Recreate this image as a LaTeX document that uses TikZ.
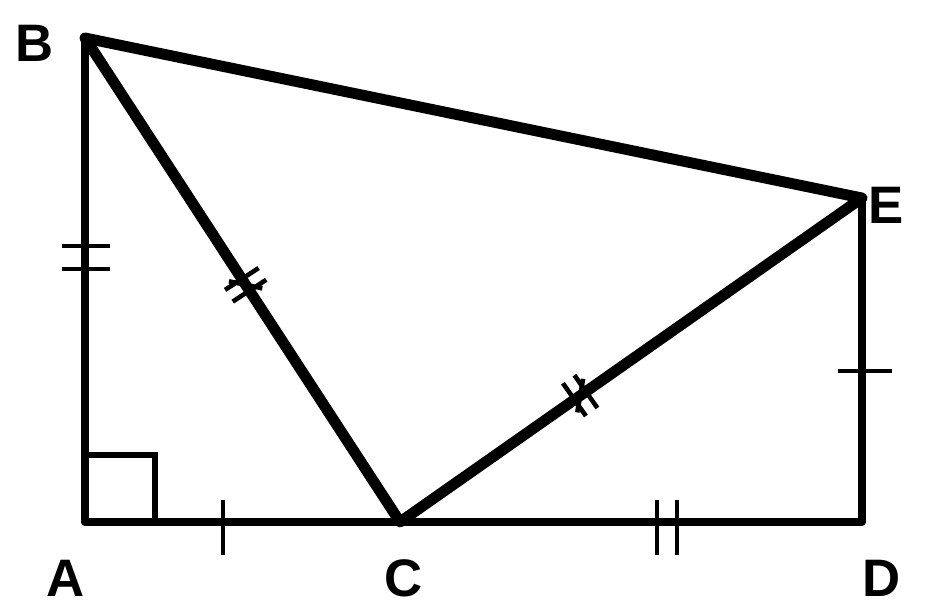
\documentclass[tikz,border=0pt]{standalone}
\usepackage{fontspec}
\setmainfont{Liberation Sans}
\usetikzlibrary{calc}

\begin{document}
\begin{tikzpicture}[x=0.01cm, y=-0.01cm,
    leg/.style={line width=2.4pt, line cap=round, line join=round},
    slant/.style={line width=3.1pt, line cap=round, line join=round},
    tickmark/.style={line width=1.3pt},
    lbl/.style={font=\fontsize{15pt}{18pt}\selectfont\bfseries, inner sep=0pt}]
    \useasboundingbox (0,0) rectangle (930,607);
    % points
    \coordinate (A) at (85,522);
    \coordinate (B) at (85,38);
    \coordinate (C) at (400,522);
    \coordinate (D) at (862,522);
    \coordinate (E) at (862,198);
    % right angle at A
    \draw[line width=1.5pt] (85,455) -- (155,455) -- (155,522);
    % sides
    \draw[leg] (B) -- (A) -- (D) -- (E);
    \draw[slant] (B) -- (C) -- (E) -- cycle;
    % equal marks
    \draw[tickmark] (62,246) -- (110,246) (62,269) -- (110,269);
    \draw[tickmark] (838,371) -- (892,371);
    \draw[tickmark] (223,500) -- (223,555);
    \draw[tickmark] (657,500) -- (657,555) (677,500) -- (677,555);
    \coordinate (m1) at ($(B)!0.51!(C)$);
    \coordinate (m2) at ($(C)!0.39!(E)$);
    \foreach \m/\to in {m1/C, m2/E} {
      \foreach \s in {-0.07cm, 0.07cm} {
        \coordinate (q) at ($(\m)!\s!(\to)$);
        \draw[tickmark] ($(q)!0.2cm!90:(\to)$) -- ($(q)!0.2cm!-90:(\to)$);
      }
      \draw[tickmark] ($(\m)!0.17cm!45:(\to)$) -- ($(\m)!0.17cm!-135:(\to)$);
    }
    % labels
    \node[lbl] (lA) at (66,578) {A};
    \node[lbl] (lB) at (35,43) {B};
    \node[lbl] (lC) at (404,578) {C};
    \node[lbl] (lD) at (882,578) {D};
    \node[lbl] (lE) at (886,205) {E};
\end{tikzpicture}
\end{document}
